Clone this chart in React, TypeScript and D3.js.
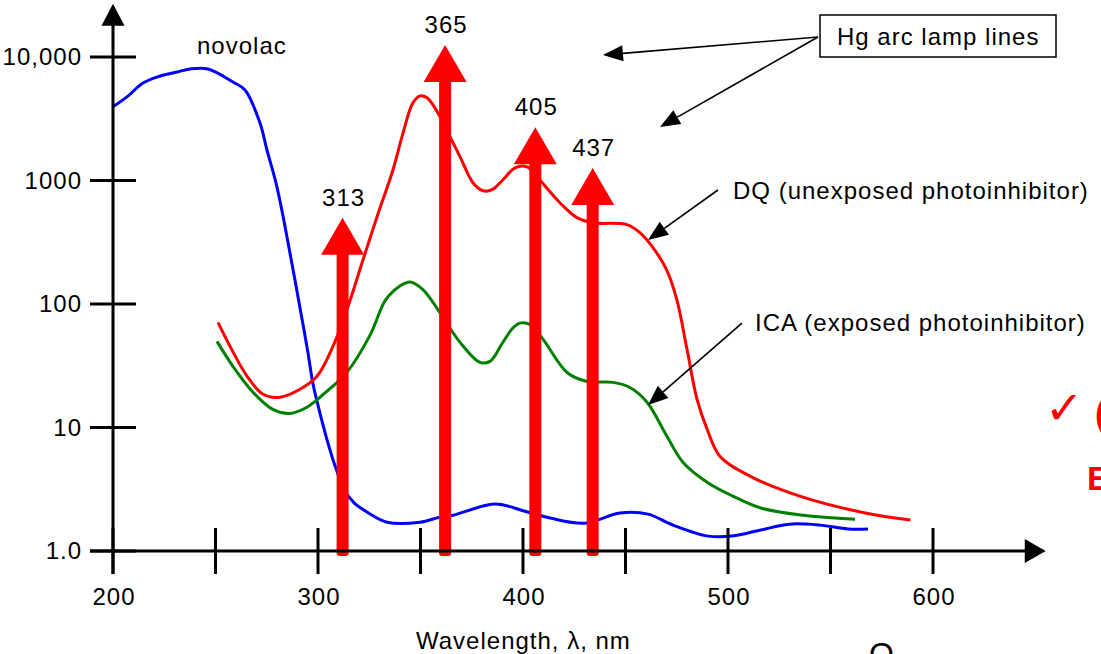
import * as d3 from 'd3';

// novolac resin absorbance (blue)
const novolacNm = [200, 206.8, 214.6, 221.5, 231.2, 237.6, 246.3, 258.5, 264.4, 271.7, 275.1, 279.5, 283, 286, 289, 292, 295, 297.6, 300.5, 304, 308.3, 313, 317.6, 323.9, 333.7, 349.8, 359.5, 366, 386.3, 401, 413.2, 430.2, 447.3, 461, 473.2, 490.2, 502, 516, 529.8, 544.9, 558.5, 568.3];
const novolacAbs = [3950, 4750, 6150, 6890, 7560, 8000, 8000, 6280, 5400, 2920, 1766, 955, 509, 276, 149, 79, 41.3, 22.4, 14, 8.4, 4.9, 3.1, 2.45, 2.07, 1.71, 1.71, 1.88, 1.95, 2.4, 2.1, 1.85, 1.68, 2.03, 1.99, 1.62, 1.32, 1.32, 1.48, 1.65, 1.62, 1.51, 1.51];

// DQ, unexposed photoinhibitor (red)
const dqNm = [251.2, 257.1, 265.4, 273.2, 281.5, 291.2, 299.5, 307.3, 314.1, 322, 328.8, 336.6, 341.5, 346.3, 349.8, 353.2, 358.5, 364.4, 369.3, 375.6, 380.5, 384.9, 390.2, 396.1, 402, 406.8, 418, 426.3, 434, 450.7, 457, 463.4, 470, 475, 480, 484.9, 489.8, 496, 510.7, 535, 567, 589];
const dqAbs = [71, 45.4, 26, 18.6, 17.6, 20.4, 26, 45.4, 90, 229, 509, 1222, 2430, 4250, 4840, 4670, 3525, 2258, 1555, 959, 826, 842, 1014, 1268, 1291, 1072, 661, 500, 455, 439, 378, 286, 190, 109, 43, 16.9, 9.7, 5.86, 4.04, 2.78, 2.03, 1.78];

// ICA, exposed photoinhibitor (green)
const icaNm = [250.7, 258.5, 268.3, 278, 286.3, 294.6, 302, 314.1, 325.4, 333, 340, 344.9, 351.2, 359.5, 369.3, 379, 383.9, 390.2, 395.1, 398.5, 403.4, 409.8, 421.5, 431.2, 443.9, 452.2, 460.5, 470.2, 478, 489.8, 502.4, 516, 536.6, 562];
const icaAbs = [49.8, 31.3, 19.3, 14, 13, 14.6, 18.2, 28, 56, 108, 140, 151, 131, 85, 48.9, 33.7, 34.3, 49, 64, 70, 68.3, 51.7, 27.9, 23.6, 23.2, 21.1, 16, 8.5, 5.24, 3.61, 2.78, 2.23, 1.95, 1.81];

// Hg arc lamp lines
const lampLabels = ['313', '365', '405', '437'];
const lampNm = [312, 362, 406, 434];
const lampTop = [500, 12500, 2700, 1260];

const xTicks = [200, 250, 300, 350, 400, 450, 500, 550, 600];
const xTickLabels = ['200', '', '300', '', '400', '', '500', '', '600'];
const yTicks = [1, 10, 100, 1000, 10000];
const yTickLabels = ['1.0', '10', '100', '1000', '10,000'];

const FONT = 'Liberation Sans, Arial, sans-serif';

function callout(x1: number, y1: number, x2: number, y2: number, len = 20, half = 8) {
  const dx = x2 - x1, dy = y2 - y1;
  const d = Math.hypot(dx, dy);
  const ux = dx / d, uy = dy / d;
  const bx = x2 - ux * len, by = y2 - uy * len;
  const nx = -uy * half, ny = ux * half;
  return (
    <g>
      <line x1={x1} y1={y1} x2={bx} y2={by} stroke="#000" strokeWidth={1.6} />
      <path d={`M${x2},${y2}L${bx + nx},${by + ny}L${bx - nx},${by - ny}Z`} fill="#000" />
    </g>
  );
}

export default function App() {
  const x = d3.scaleLinear().domain([200, 600]).range([113, 933]);
  const y = d3.scaleLog().domain([1, 10000]).range([551, 57]);
  const line = d3.line<number>()
    .x((d) => x(d))
    .curve(d3.curveCatmullRom.alpha(0.5));

  const series = [
    { nm: novolacNm, v: novolacAbs, color: '#0000ff' },
    { nm: icaNm, v: icaAbs, color: '#008000' },
    { nm: dqNm, v: dqAbs, color: '#ff0000' },
  ];

  const x0 = x(200), y0 = y(1);
  const xEnd = x(655), yEnd = y(27000);
  const tickHalf = 23;

  const txt = { fontFamily: FONT, fontSize: 24, letterSpacing: 1, fill: '#000' } as const;

  return (
    <svg width={1101} height={654} style={{ position: 'absolute', left: 0, top: 0, background: '#fff' }}>
      {/* curves */}
      {series.map((s, i) => (
        <path
          key={i}
          d={line.y((_, j) => y(s.v[j]))(s.nm) || ''}
          fill="none"
          stroke={s.color}
          strokeWidth={3}
          strokeLinejoin="round"
        />
      ))}

      {/* lamp line arrows */}
      {lampNm.map((nm, i) => {
        const ax = x(nm);
        const top = y(lampTop[i]);
        const hb = top + 37;
        const bot = y0 + 5;
        return (
          <g key={i}>
            <path
              d={`M${ax},${top}L${ax + 21.5},${hb}L${ax + 6},${hb}L${ax + 6},${bot - 3}Q${ax + 6},${bot} ${ax + 3},${bot}L${ax - 3},${bot}Q${ax - 6},${bot} ${ax - 6},${bot - 3}L${ax - 6},${hb}L${ax - 21.5},${hb}Z`}
              fill="#ff0000"
            />
            <text x={ax + 1} y={top - 12} textAnchor="middle" {...txt}>{lampLabels[i]}</text>
          </g>
        );
      })}

      {/* axes */}
      <line x1={x0 - tickHalf} y1={y0} x2={xEnd - 18} y2={y0} stroke="#000" strokeWidth={3} />
      <path d={`M${xEnd},${y0}L${xEnd - 21},${y0 - 12}L${xEnd - 21},${y0 + 12}Z`} fill="#000" />
      <line x1={x0} y1={y0 + tickHalf} x2={x0} y2={yEnd + 18} stroke="#000" strokeWidth={3} />
      <path d={`M${x0},${yEnd}L${x0 - 11.5},${yEnd + 22}L${x0 + 11.5},${yEnd + 22}Z`} fill="#000" />

      {xTicks.map((t, i) => (
        <g key={t}>
          <line x1={x(t)} x2={x(t)} y1={y0 - tickHalf} y2={y0 + tickHalf} stroke="#000" strokeWidth={3} />
          {xTickLabels[i] && (
            <text x={x(t) + 1} y={605} textAnchor="middle" {...txt}>{xTickLabels[i]}</text>
          )}
        </g>
      ))}
      {yTicks.map((t, i) => (
        <g key={t}>
          <line x1={x0 - tickHalf} x2={x0 + tickHalf} y1={y(t)} y2={y(t)} stroke="#000" strokeWidth={3} />
          <text x={82} y={y(t) + 8} textAnchor="end" {...txt}>{yTickLabels[i]}</text>
        </g>
      ))}

      <text x={416} y={649} {...txt}>Wavelength, λ, nm</text>

      {/* labels */}
      <text x={197} y={54} {...txt}>novolac</text>
      <text x={733} y={199} {...txt}>DQ (unexposed photoinhibitor)</text>
      <text x={755} y={331} {...txt}>ICA (exposed photoinhibitor)</text>

      <rect x={820} y={15} width={236} height={42} fill="#fff" stroke="#000" strokeWidth={1.5} />
      <text x={837} y={45} {...txt}>Hg arc lamp lines</text>

      {callout(x(543.9), y(14520), x(439), y(10380))}
      {callout(x(543.9), y(14520), x(466.8), y(2712))}
      {callout(x(495.1), y(838), x(461), y(330))}
      {callout(x(506.8), y(70), x(461), y(15.2))}

      {/* slide fragments cut off at the edge, as in the source slide */}
      <text x={1045} y={424} fontFamily="DejaVu Sans, sans-serif" fontSize={46} fill="#ff0000">✓</text>
      <text x={1095} y={426} fontFamily={FONT} fontWeight="bold" fontSize={36} fill="#ff0000">(</text>
      <text x={1087} y={490} fontFamily={FONT} fontWeight="bold" fontSize={34} fill="#ff0000">E</text>
      <text x={869} y={665} fontFamily={FONT} fontSize={32} fill="#000">O</text>
    </svg>
  );
}
